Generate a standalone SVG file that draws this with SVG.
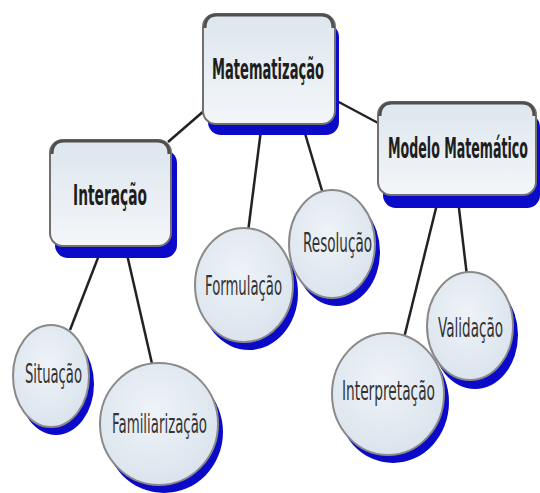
<svg xmlns="http://www.w3.org/2000/svg" width="540" height="493" viewBox="0 0 540 493">
<defs>
<linearGradient id="fill" x1="0" y1="0" x2="0" y2="1">
<stop offset="0" stop-color="#dde6ee"/>
<stop offset="1" stop-color="#f3f6f9"/>
</linearGradient>
<radialGradient id="cfill" cx="0.45" cy="0.4" r="0.6">
<stop offset="0" stop-color="#eef3f8"/>
<stop offset="1" stop-color="#dbe4ed"/>
</radialGradient>
</defs>
<style>
.sh{fill:#0a0ac8}
.box{fill:url(#fill);stroke:#707070;stroke-width:2}
.top{fill:none;stroke:#505050;stroke-width:3}
.el{fill:url(#cfill);stroke:#8a8a8a;stroke-width:2}
.bt{font-family:"DejaVu Sans","Liberation Sans",sans-serif;font-weight:bold;font-size:28px;fill:#1e1e1e;text-anchor:middle}
.ct{font-family:"DejaVu Sans","Liberation Sans",sans-serif;font-size:26px;fill:#333;text-anchor:middle}
.ln{stroke:#222;stroke-width:2.5;fill:none}
</style>
<rect width="540" height="493" fill="#fff"/>
<g id="connectors">
<line class="ln" x1="205" y1="110" x2="168" y2="142"/>
<line class="ln" x1="335" y1="100" x2="380" y2="124"/>
<line class="ln" x1="261" y1="130" x2="248" y2="232"/>
<line class="ln" x1="304" y1="130" x2="323" y2="194"/>
<line class="ln" x1="101" y1="250" x2="70" y2="330"/>
<line class="ln" x1="126" y1="250" x2="153" y2="368"/>
<line class="ln" x1="438" y1="200" x2="404" y2="338"/>
<line class="ln" x1="458" y1="200" x2="467" y2="276"/>
</g>
<g id="matematizacao">
<rect class="sh" x="208" y="24" width="131" height="111" rx="13"/>
<rect class="box" x="203" y="14" width="132" height="110" rx="13"/>
<path class="top" d="M205 28 Q205 15 217 15 L321 15 Q333 15 333 28"/>
<text class="bt" transform="translate(268 79) scale(0.5 1)" textLength="224" lengthAdjust="spacingAndGlyphs">Matematização</text>
</g>
<g id="interacao">
<rect class="sh" x="55" y="150" width="122" height="108" rx="13"/>
<rect class="box" x="50" y="140" width="121" height="106" rx="13"/>
<path class="top" d="M52 154 Q52 141 64 141 L157 141 Q169 141 169 154"/>
<text class="bt" transform="translate(110 205) scale(0.5 1)" textLength="148" lengthAdjust="spacingAndGlyphs">Interação</text>
</g>
<g id="modelo">
<rect class="sh" x="383" y="114" width="157" height="94" rx="13"/>
<rect class="box" x="378" y="102" width="158" height="93" rx="13"/>
<path class="top" d="M380 116 Q380 103 392 103 L522 103 Q534 103 534 116"/>
<text class="bt" transform="translate(458 158) scale(0.5 1)" textLength="280" lengthAdjust="spacingAndGlyphs">Modelo Matemático</text>
</g>
<g id="formulacao">
<ellipse class="sh" cx="249" cy="293" rx="49" ry="57"/>
<ellipse class="el" cx="244" cy="285" rx="49" ry="57"/>
<text class="ct" transform="translate(243.5 295) scale(0.5 1)" textLength="154" lengthAdjust="spacingAndGlyphs">Formulação</text>
</g>
<g id="resolucao">
<ellipse class="sh" cx="337" cy="252" rx="43" ry="54"/>
<ellipse class="el" cx="332" cy="244" rx="43" ry="54"/>
<text class="ct" transform="translate(337.5 252) scale(0.5 1)" textLength="138" lengthAdjust="spacingAndGlyphs">Resolução</text>
</g>
<g id="situacao">
<ellipse class="sh" cx="56" cy="384" rx="38" ry="51"/>
<ellipse class="el" cx="51" cy="376" rx="38" ry="51"/>
<text class="ct" transform="translate(53.5 383) scale(0.5 1)" textLength="114" lengthAdjust="spacingAndGlyphs">Situação</text>
</g>
<g id="familiarizacao">
<ellipse class="sh" cx="164" cy="432" rx="59" ry="61"/>
<ellipse class="el" cx="159" cy="424" rx="59" ry="61"/>
<text class="ct" transform="translate(159.5 433) scale(0.5 1)" textLength="190" lengthAdjust="spacingAndGlyphs">Familiarização</text>
</g>
<g id="validacao">
<ellipse class="sh" cx="475" cy="335" rx="43" ry="54"/>
<ellipse class="el" cx="470" cy="326" rx="43" ry="54"/>
<text class="ct" transform="translate(470.5 337) scale(0.5 1)" textLength="130" lengthAdjust="spacingAndGlyphs">Validação</text>
</g>
<g id="interpretacao">
<ellipse class="sh" cx="393" cy="402" rx="56" ry="61"/>
<ellipse class="el" cx="388" cy="394" rx="56" ry="61"/>
<text class="ct" transform="translate(388.5 400) scale(0.5 1)" textLength="186" lengthAdjust="spacingAndGlyphs">Interpretação</text>
</g>
</svg>
